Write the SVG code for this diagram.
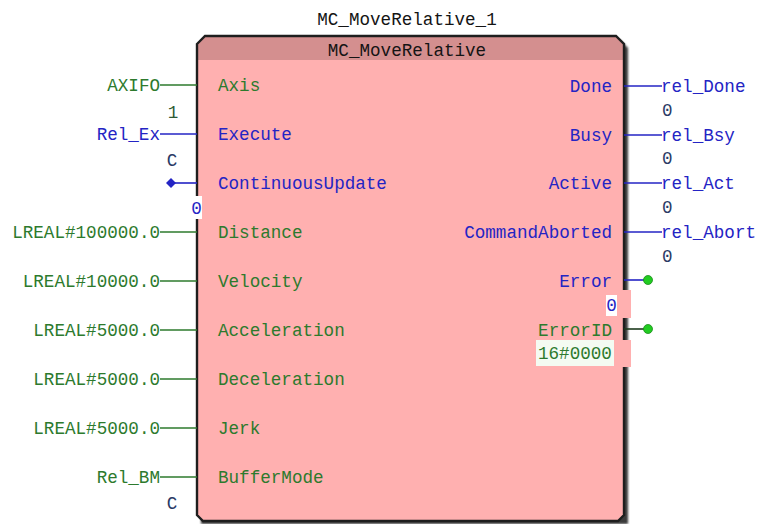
<svg xmlns="http://www.w3.org/2000/svg" width="757" height="524" viewBox="0 0 757 524">
  <defs>
    <filter id="soft" x="-5%" y="-5%" width="110%" height="110%">
      <feGaussianBlur stdDeviation="1.2"/>
    </filter>
    <style>
      text { font-family: "Liberation Mono", "DejaVu Sans Mono", monospace; font-size: 17.6px; }
      .g { fill: #2d7a2d; }
      .b { fill: #2424c4; }
      .k { fill: #141414; }
      .v { fill: #2a3a66; }
      .n { fill: #2e5a34; }
      .end { text-anchor: end; }
      .mid { text-anchor: middle; }
      .lg { stroke: #2d7a2d; stroke-width: 1.6; fill: none; }
      .lb { stroke: #2424c4; stroke-width: 1.6; fill: none; }
      .dot { fill: #22cc22; stroke: #1a8a1a; stroke-width: 0.8; }
    </style>
  </defs>
  <rect width="757" height="524" fill="#ffffff"/>

  <!-- instance name -->
  <text class="k mid" x="407" y="25">MC_MoveRelative_1</text>

  <!-- function block -->
  <g id="block">
    <path d="M201,48 L209,40 L620,40 L628,48 L628,524 L201,524 Z" fill="#3a3a3a" filter="url(#soft)"/>
    <path d="M197,44 L205,36 L616,36 L624,44 L624,515 L618,521 L203,521 L197,515 Z" fill="#ffb0b0"/>
    <path d="M198,44 L205,37 L616,37 L623,44 L623,60 L198,60 Z" fill="#d48f8f"/>
    <path d="M197,44 L205,36 L616,36 L624,44 L624,515 L618,521 L203,521 L197,515 Z" fill="none" stroke="#1e1e1e" stroke-width="2.4"/>
    <text class="k mid" x="407" y="56">MC_MoveRelative</text>

    <!-- input pins -->
    <text class="g" x="218" y="91">Axis</text>
    <text class="b" x="218" y="140">Execute</text>
    <text class="b" x="218" y="189">ContinuousUpdate</text>
    <text class="g" x="218" y="238">Distance</text>
    <text class="g" x="218" y="287">Velocity</text>
    <text class="g" x="218" y="336">Acceleration</text>
    <text class="g" x="218" y="385">Deceleration</text>
    <text class="g" x="218" y="434">Jerk</text>
    <text class="g" x="218" y="483">BufferMode</text>

    <!-- output pins -->
    <text class="b end" x="612" y="92">Done</text>
    <text class="b end" x="612" y="141">Busy</text>
    <text class="b end" x="612" y="189">Active</text>
    <text class="b end" x="612" y="238">CommandAborted</text>
    <text class="b end" x="612" y="287">Error</text>
    <text class="g end" x="612" y="336">ErrorID</text>

    <!-- current values shown on the block edge -->
    <rect x="598" y="290" width="33" height="28" fill="#ffb0b0"/>
    <rect x="606" y="295" width="11" height="21" fill="#ffffff"/>
    <text class="b mid" x="611.5" y="311">0</text>
    <rect x="598" y="340" width="33" height="27" fill="#ffb0b0"/>
    <rect x="536" y="340" width="78" height="26" fill="#f4fbf2"/>
    <text class="g" x="538" y="359">16#0000</text>
  </g>

  <!-- connectors -->
  <g id="connectors">
    <line class="lg" x1="160" y1="85" x2="197" y2="85"/>
    <line class="lb" x1="160" y1="134" x2="197" y2="134"/>
    <line class="lb" x1="171" y1="183" x2="197" y2="183"/>
    <polygon points="171,178 176,183 171,188 166,183" fill="#2424c4"/>
    <line class="lg" x1="160" y1="232" x2="197" y2="232"/>
    <line class="lg" x1="160" y1="281" x2="197" y2="281"/>
    <line class="lg" x1="160" y1="330" x2="197" y2="330"/>
    <line class="lg" x1="160" y1="379" x2="197" y2="379"/>
    <line class="lg" x1="160" y1="428" x2="197" y2="428"/>
    <line class="lg" x1="160" y1="477" x2="197" y2="477"/>

    <line class="lb" x1="624" y1="86" x2="662" y2="86"/>
    <line class="lb" x1="624" y1="135" x2="662" y2="135"/>
    <line class="lb" x1="624" y1="183" x2="662" y2="183"/>
    <line class="lb" x1="624" y1="232" x2="662" y2="232"/>
    <line class="lb" x1="624" y1="280" x2="648" y2="280"/>
    <circle class="dot" cx="648" cy="280" r="4.5"/>
    <line x1="624" y1="329" x2="648" y2="329" stroke="#1e3a1e" stroke-width="1.6"/>
    <circle class="dot" cx="648" cy="329" r="4.5"/>
  </g>

  <!-- input variables -->
  <g id="in-axis"><text class="g end" x="160" y="91">AXIFO</text><text class="n mid" x="173" y="118">1</text></g>
  <g id="in-execute"><text class="b end" x="160" y="140">Rel_Ex</text><text class="v mid" x="172" y="166">C</text></g>
  <g id="in-continuous">
    <rect x="191" y="196" width="11" height="23" fill="#ffffff"/>
    <text class="b mid" x="196.5" y="214">0</text>
  </g>
  <g id="in-distance"><text class="g end" x="160" y="238">LREAL#100000.0</text></g>
  <g id="in-velocity"><text class="g end" x="160" y="287">LREAL#10000.0</text></g>
  <g id="in-acceleration"><text class="g end" x="160" y="336">LREAL#5000.0</text></g>
  <g id="in-deceleration"><text class="g end" x="160" y="385">LREAL#5000.0</text></g>
  <g id="in-jerk"><text class="g end" x="160" y="434">LREAL#5000.0</text></g>
  <g id="in-buffermode"><text class="g end" x="160" y="483">Rel_BM</text><text class="v mid" x="172" y="509">C</text></g>

  <!-- output variables -->
  <g id="out-done"><text class="b" x="661" y="92">rel_Done</text><text class="v" x="662" y="116">0</text></g>
  <g id="out-busy"><text class="b" x="661" y="141">rel_Bsy</text><text class="v" x="662" y="164">0</text></g>
  <g id="out-active"><text class="b" x="661" y="189">rel_Act</text><text class="v" x="662" y="213">0</text></g>
  <g id="out-aborted"><text class="b" x="661" y="238">rel_Abort</text><text class="v" x="662" y="262">0</text></g>
</svg>
